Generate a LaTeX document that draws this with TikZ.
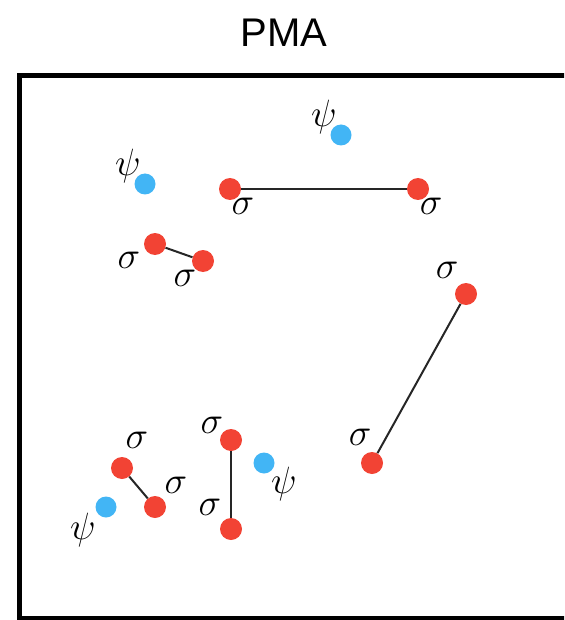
\RequirePackage{fix-cm}
\documentclass[tikz,border=0pt]{standalone}
\usepackage{fontspec}
\setsansfont{Liberation Sans}
\definecolor{sred}{RGB}{242,67,52}
\definecolor{sblue}{RGB}{66,181,245}
\tikzset{
  sdot/.style={circle,fill=sred,inner sep=0pt,minimum size=22pt},
  pdot/.style={circle,fill=sblue,inner sep=0pt,minimum size=21pt},
  lbl/.style={inner sep=0pt,font=\fontsize{38}{44}\selectfont},
  bond/.style={line width=2pt,draw=black!85}
}
\begin{document}
\begin{tikzpicture}[x=1pt,y=-1pt]
\useasboundingbox (0,0) rectangle (564,620);
\clip (0,0) rectangle (564,620);
\node[font=\sffamily\fontsize{40}{46}\selectfont] (title) at (284,33) {PMA};
\draw[line width=4.5pt] (600,75.5) -- (19.5,75.5) -- (19.5,618) -- (600,618);
% red sigma dots
\node[sdot] (s1) at (230,189) {};
\node[sdot] (s2) at (418,189) {};
\node[sdot] (s3) at (155,244) {};
\node[sdot] (s4) at (203,261) {};
\node[sdot] (s5) at (466,294) {};
\node[sdot] (s6) at (372,463) {};
\node[sdot] (s7) at (122,468) {};
\node[sdot] (s8) at (155,507) {};
\node[sdot] (s9) at (231,440) {};
\node[sdot] (s10) at (231,529) {};
% blue psi dots
\node[pdot] (p1) at (341,135) {};
\node[pdot] (p2) at (145,184) {};
\node[pdot] (p3) at (264,463) {};
\node[pdot] (p4) at (106,507) {};
% bonds
\draw[bond] (s1) -- (s2);
\draw[bond] (s3) -- (s4);
\draw[bond] (s5) -- (s6);
\draw[bond] (s7) -- (s8);
\draw[bond] (s9) -- (s10);
% labels
\node[lbl] (l1) at (243,206) {$\sigma$};
\node[lbl] (l2) at (431,206) {$\sigma$};
\node[lbl] (l3) at (129,260) {$\sigma$};
\node[lbl] (l4) at (185,278) {$\sigma$};
\node[lbl] (l5) at (447,270) {$\sigma$};
\node[lbl] (l6) at (360,437) {$\sigma$};
\node[lbl] (l7) at (137,440) {$\sigma$};
\node[lbl] (l8) at (176,485) {$\sigma$};
\node[lbl] (l9) at (212,425) {$\sigma$};
\node[lbl] (l10) at (210,507) {$\sigma$};
\node[lbl] (m1) at (324,117) {$\psi$};
\node[lbl] (m2) at (128,166) {$\psi$};
\node[lbl] (m3) at (284,484) {$\psi$};
\node[lbl] (m4) at (83,530) {$\psi$};
\end{tikzpicture}
\end{document}
